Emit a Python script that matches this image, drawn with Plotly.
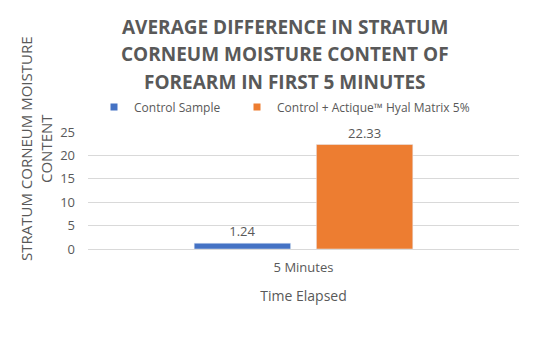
import plotly.graph_objects as go

categories = ["5 Minutes"]
series_names = ["Control Sample", "Control + Actique™ Hyal Matrix 5%"]
control_values = [1.24]
actique_values = [22.33]
label_control = ["1.24"]
label_actique = ["22.33"]
y_ticks = [0, 5, 10, 15, 20, 25]
title_lines = ["AVERAGE DIFFERENCE IN STRATUM", "CORNEUM MOISTURE CONTENT OF", "FOREARM IN FIRST 5 MINUTES"]

FONT = "Open Sans"
GREY = "#595959"
BLUE = "#4472C4"
ORANGE = "#ED7D31"

fig = go.Figure()
for name, vals, labs, col in [(series_names[0], control_values, label_control, BLUE),
                              (series_names[1], actique_values, label_actique, ORANGE)]:
    fig.add_trace(go.Bar(
        x=categories, y=vals, name=name, marker_color=col, text=labs,
        textposition="outside",
        textfont=dict(family=FONT, size=13, color=GREY), cliponaxis=False,
        showlegend=False,
    ))
# legend entries with small square markers, one legend box per series
for name, col, lg in [(series_names[0], BLUE, "legend"), (series_names[1], ORANGE, "legend2")]:
    fig.add_trace(go.Scatter(
        x=[None], y=[None], mode="markers", name=name, legend=lg,
        marker=dict(symbol="square", size=7, color=col), showlegend=True,
    ))

legend_style = dict(
    orientation="h", xanchor="left", y=(249 - 107) / 117, yanchor="middle",
    font=dict(family=FONT, size=12, color=GREY), bgcolor="rgba(0,0,0,0)",
    itemwidth=30,
)

fig.update_layout(
    width=540, height=351,
    margin=dict(l=88, r=21, t=132, b=102),
    paper_bgcolor="white", plot_bgcolor="white",
    barmode="group", bargap=0.433, bargroupgap=0.211,
    font=dict(family=FONT, color=GREY),
    legend=dict(x=(94 - 88) / 431, **legend_style),
    legend2=dict(x=(237 - 88) / 431, **legend_style),
    showlegend=True,
    xaxis=dict(
        showgrid=False, showline=True, linecolor="#d9d9d9", linewidth=1,
        ticks="", tickfont=dict(family=FONT, size=13, color=GREY),
        ticklabelstandoff=6,
        title=dict(text="Time Elapsed", font=dict(family=FONT, size=14, color=GREY), standoff=16),
    ),
    yaxis=dict(
        range=[0, 25], tickvals=y_ticks, showgrid=True, gridcolor="#d9d9d9",
        zeroline=False, ticks="", tickfont=dict(family=FONT, size=13, color=GREY),
        ticklabelstandoff=12,
    ),
)

for i, line in enumerate(title_lines):
    fig.add_annotation(
        text="<b>" + line + "</b>", xref="paper", yref="paper",
        x=(285 - 88) / 431, y=(249 - (27 + 27.5 * i)) / 117,
        xanchor="center", yanchor="middle", showarrow=False,
        font=dict(family=FONT, size=19, color=GREY),
    )

fig.add_annotation(
    text="STRATUM CORNEUM MOISTURE<br>CONTENT", textangle=-90,
    xref="paper", yref="paper", x=(36 - 88) / 431, y=(249 - 149) / 117,
    xanchor="center", yanchor="middle", showarrow=False,
    font=dict(family=FONT, size=15, color=GREY),
)

fig.write_html("out.html")
